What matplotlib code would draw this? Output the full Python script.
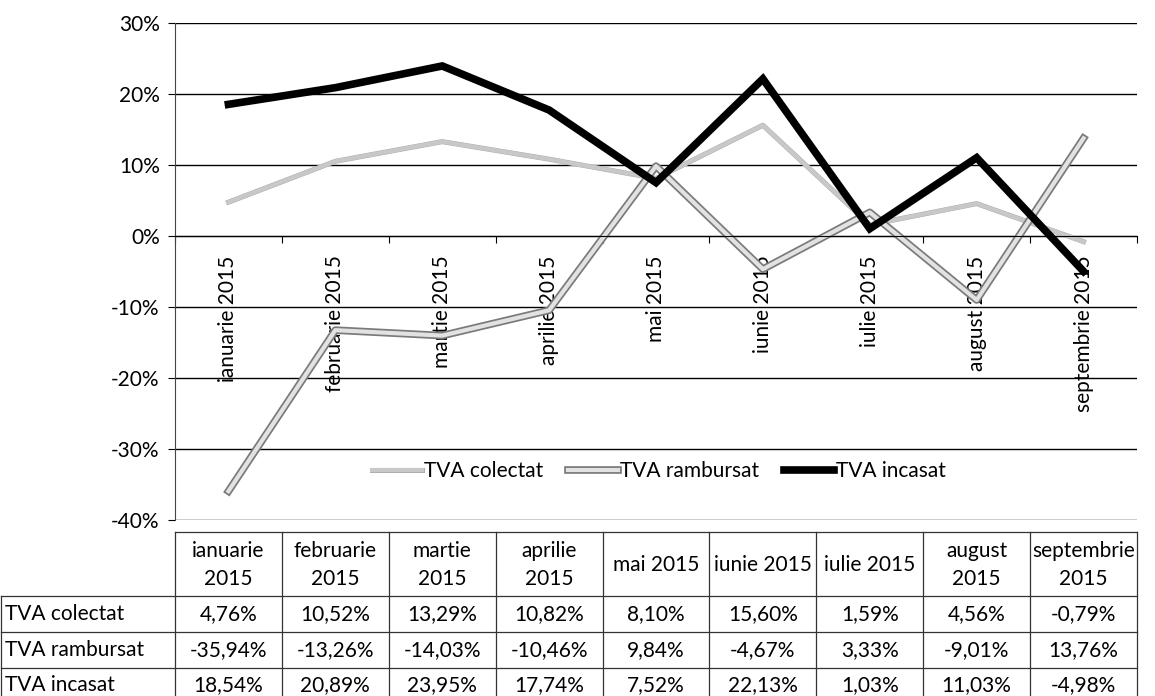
import matplotlib
matplotlib.use('Agg')
import matplotlib.pyplot as plt
import matplotlib.patheffects as pe
from matplotlib.ticker import FuncFormatter, FixedLocator
import numpy as np

plt.rcParams['font.family'] = ['Lato', 'DejaVu Sans']
plt.rcParams['font.size'] = 15

# date
months = ['ianuarie 2015', 'februarie 2015', 'martie 2015', 'aprilie 2015', 'mai 2015',
          'iunie 2015', 'iulie 2015', 'august 2015', 'septembrie 2015']
table_headers = ['ianuarie\n2015', 'februarie\n2015', 'martie\n2015', 'aprilie\n2015', 'mai 2015',
                 'iunie 2015', 'iulie 2015', 'august\n2015', 'septembrie\n2015']
tva_colectat = [4.76, 10.52, 13.29, 10.82, 8.10, 15.60, 1.59, 4.56, -0.79]
tva_rambursat = [-35.94, -13.26, -14.03, -10.46, 9.84, -4.67, 3.33, -9.01, 13.76]
tva_incasat = [18.54, 20.89, 23.95, 17.74, 7.52, 22.13, 1.03, 11.03, -4.98]
series_names = ['TVA colectat', 'TVA rambursat', 'TVA incasat']
y_ticks = [30, 20, 10, 0, -10, -20, -30, -40]

W, H = 1155, 696
fig = plt.figure(figsize=(W / 100, H / 100), dpi=100)

# zona graficului (pixeli)
left, right, top, bottom = 175, 1137, 23, 520
ax = fig.add_axes([left / W, 1 - bottom / H, (right - left) / W, (bottom - top) / H])
n = len(months)
x = np.arange(n)

ax.set_xlim(-0.5, n - 0.5)
ax.set_ylim(-40, 30)
ax.set_yticks(y_ticks)
ax.yaxis.set_major_formatter(FuncFormatter(lambda v, p: f'{v:.0f}%'))
ax.grid(axis='y', color='black', linewidth=1)
ax.set_axisbelow(True)
for s in ['top', 'right']:
    ax.spines[s].set_visible(False)
ax.spines['left'].set_color('#444444')
ax.spines['bottom'].set_position(('data', 0))
ax.spines['bottom'].set_color('black')
ax.tick_params(axis='y', length=5, direction='out', pad=6, labelsize=15)

# axa x la 0%: tick-uri intre categorii, etichete rotite
ax.xaxis.set_major_locator(FixedLocator(np.arange(n + 1) - 0.5))
ax.xaxis.set_major_formatter(FuncFormatter(lambda v, p: ''))
ax.xaxis.set_minor_locator(FixedLocator(x))
ax.set_xticklabels(months, minor=True, rotation=90)
ax.tick_params(axis='x', which='major', length=5, direction='out')
ax.tick_params(axis='x', which='minor', length=0, pad=14, labelsize=15)

l1, = ax.plot(x, tva_colectat, color='#c8c8c8', linewidth=3, label=series_names[0],
              path_effects=[pe.Stroke(linewidth=3.6, foreground='#acacac'), pe.Normal()])
l2, = ax.plot(x, tva_rambursat, color='#e2e2e2', linewidth=3, label=series_names[1],
              path_effects=[pe.Stroke(linewidth=5.5, foreground='#7a7a7a'), pe.Normal()])
l3, = ax.plot(x, tva_incasat, color='black', linewidth=5.5, label=series_names[2],
              solid_joinstyle='miter')

ax.legend(loc='center', bbox_to_anchor=(0.503, 0.099), ncol=3, frameon=False,
          handlelength=2.4, handletextpad=0.1, columnspacing=1.2, fontsize=15)

# tabelul de date
tab = fig.add_axes([0, 0, 1, 1], zorder=-1)
tab.set_xlim(0, W)
tab.set_ylim(H, 0)
tab.axis('off')
cw = (right - left) / n
edges = [left + k * cw for k in range(n + 1)]
row_lines = [596, 632, 668]
t_top = 532
lc = '#333333'
for e in edges:
    tab.plot([e, e], [t_top, H], color=lc, linewidth=0.9)
tab.plot([1, 1], [row_lines[0], H], color=lc, linewidth=0.9)
tab.plot([left, right], [t_top, t_top], color=lc, linewidth=0.9)
for r in row_lines:
    tab.plot([1, right], [r, r], color=lc, linewidth=0.9)

for k, h in enumerate(table_headers):
    tab.text(left + (k + 0.5) * cw, (t_top + row_lines[0]) / 2 + 1, h, ha='center', va='center',
             fontsize=15, linespacing=1.45)

rows = [tva_colectat, tva_rambursat, tva_incasat]
row_centers = [614, 650, 685]
for name, vals, yc in zip(series_names, rows, row_centers):
    tab.text(5, yc, name, ha='left', va='center', fontsize=15)
    for k, v in enumerate(vals):
        tab.text(left + (k + 0.5) * cw, yc, f'{v:.2f}%'.replace('.', ','),
                 ha='center', va='center', fontsize=15)

fig.savefig('out.png', dpi=100)
